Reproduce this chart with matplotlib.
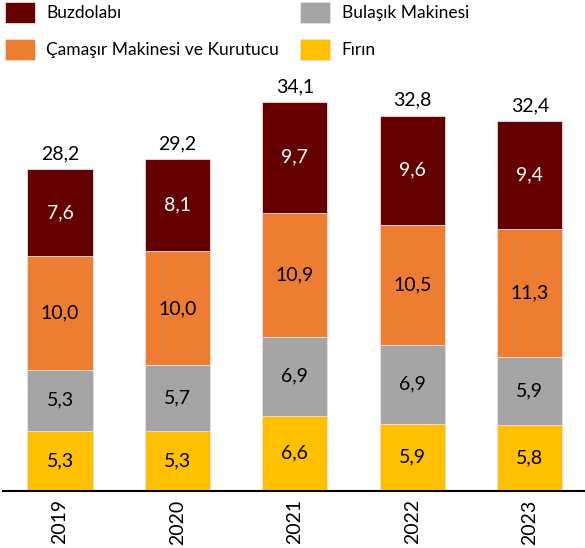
import matplotlib.pyplot as plt
import numpy as np

plt.rcParams['font.family'] = ['Lato', 'DejaVu Sans']

years = ['2019', '2020', '2021', '2022', '2023']
firin = [5.3, 5.3, 6.6, 5.9, 5.8]
bulasik = [5.3, 5.7, 6.9, 6.9, 5.9]
camasir = [10.0, 10.0, 10.9, 10.5, 11.3]
buzdolabi = [7.6, 8.1, 9.7, 9.6, 9.4]
totals = [28.2, 29.2, 34.1, 32.8, 32.4]

series = [
    ('Fırın', firin, '#FFC000', 'black'),
    ('Bulaşık Makinesi', bulasik, '#A5A5A5', 'black'),
    ('Çamaşır Makinesi ve Kurutucu', camasir, '#ED7D31', 'black'),
    ('Buzdolabı', buzdolabi, '#640000', 'white'),
]

fig = plt.figure(figsize=(5.85, 5.48), dpi=100)
ax = fig.add_axes([0.005, 0.104, 0.995, 0.7913])

x = np.arange(len(years))
bottom = np.zeros(len(years))
handles = {}
for name, vals, color, tcolor in series:
    bars = ax.bar(x, vals, width=0.555, bottom=bottom, color=color,
                  edgecolor='#f2dcdc', linewidth=0.6, label=name)
    handles[name] = bars
    for xi, b, v in zip(x, bottom, vals):
        ax.text(xi, b + v / 2, f'{v:.1f}'.replace('.', ','), ha='center', va='center',
                fontsize=14, color=tcolor)
    bottom += np.array(vals)

for xi, top, t in zip(x, bottom, totals):
    ax.text(xi, top + 0.6, f'{t:.1f}'.replace('.', ','), ha='center', va='bottom',
            fontsize=14, color='black')

ax.set_xlim(-0.486, 4.47)
ax.set_ylim(0, 38)
ax.set_xticks(x)
ax.set_xticklabels(years, rotation=90, fontsize=14)
ax.tick_params(axis='x', length=0, pad=6)
ax.set_yticks([])
for s in ['top', 'right', 'left']:
    ax.spines[s].set_visible(False)
ax.spines['bottom'].set_linewidth(1.5)

order = ['Buzdolabı', 'Çamaşır Makinesi ve Kurutucu', 'Bulaşık Makinesi', 'Fırın']
fig.legend([handles[n] for n in order], order, ncol=2, loc='upper left',
           bbox_to_anchor=(0.005, 1.0), frameon=False, fontsize=12.5,
           handlelength=1.75, handleheight=1.5, handletextpad=0.65,
           columnspacing=1.2, labelspacing=0.92, borderaxespad=0, borderpad=0.1)

fig.savefig('out.png', dpi=100)
